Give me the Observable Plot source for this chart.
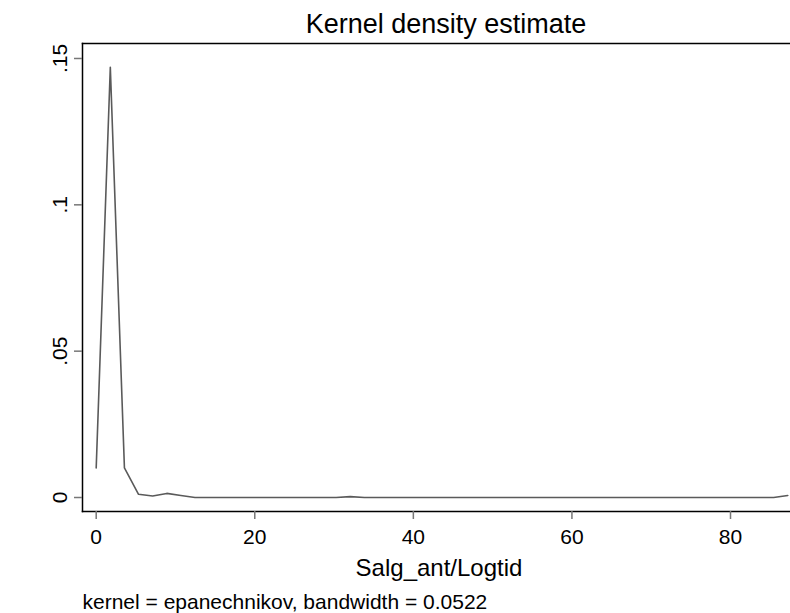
<!DOCTYPE html>
<html>
<head>
<meta charset="utf-8">
<script src="https://cdn.jsdelivr.net/npm/d3@7"></script>
<script src="https://cdn.jsdelivr.net/npm/@observablehq/plot@0.6"></script>
<style>
  html, body { margin: 0; padding: 0; background: #fff; }
  svg { display: block; }
</style>
</head>
<body>
<div id="chart"></div>
<script>
// Evaluation grid (Salg_ant/Logtid) and density estimates
const gridX = [0, 1.78, 3.56, 5.34, 7.12, 8.90, 10.68, 12.46, 14.24, 16.02,
  17.80, 19.58, 21.36, 23.14, 24.92, 26.70, 28.48, 30.26, 32.04, 33.82,
  35.60, 37.38, 39.16, 40.94, 42.72, 44.50, 46.28, 48.06, 49.84, 51.62,
  53.40, 55.18, 56.96, 58.74, 60.52, 62.30, 64.08, 65.86, 67.64, 69.42,
  71.20, 72.98, 74.76, 76.54, 78.32, 80.10, 81.88, 83.66, 85.44, 87.22];
const density = [0.0101, 0.147, 0.0101, 0.0011, 0.0005, 0.0014, 0.0007, 0, 0, 0,
  0, 0, 0, 0, 0, 0, 0, 0, 0.0003, 0,
  0, 0, 0, 0, 0, 0, 0, 0, 0, 0,
  0, 0, 0, 0, 0, 0, 0, 0, 0, 0,
  0, 0, 0, 0, 0, 0, 0, 0, 0, 0.0007];

const xTicks = [0, 20, 40, 60, 80];
const yTicks = [0, 0.05, 0.1, 0.15];
const yTickLabels = ["0", ".05", ".1", ".15"];
const titleText = "Kernel density estimate";
const xTitle = "Salg_ant/Logtid";
const noteText = "kernel = epanechnikov, bandwidth = 0.0522";

const data = gridX.map((x, i) => ({x, y: density[i]}));

const chart = Plot.plot({
  width: 790,
  height: 613,
  marginTop: 43,
  marginBottom: 102,
  marginLeft: 82,
  marginRight: 1,
  style: {fontFamily: "'Liberation Sans', Arial, sans-serif", background: "#fff", color: "#000"},
  x: {domain: [-1.728, 87.44], axis: null},
  y: {domain: [-0.00478, 0.15512], axis: null},
  marks: [
    Plot.frame({anchor: "top", stroke: "#000", strokeWidth: 1.5}),
    Plot.frame({anchor: "left", stroke: "#000", strokeWidth: 1.5}),
    Plot.frame({anchor: "bottom", stroke: "#000", strokeWidth: 1.5}),
    Plot.axisX({ticks: xTicks, tickSize: 8, tickPadding: 10, stroke: "#777", strokeWidth: 1.5,
      fill: "#000", fontSize: 21, label: null, tickFormat: d => String(d)}),
    Plot.axisY({ticks: yTicks, tickSize: 8, stroke: "#777", strokeWidth: 1.5,
      tickFormat: () => "", label: null}),
    Plot.text(yTicks, {y: d => d, text: (d, i) => yTickLabels[i], frameAnchor: "left",
      dx: -16, rotate: -90, textAnchor: "middle", lineAnchor: "bottom", fontSize: 21, fill: "#000"}),
    Plot.line(data, {x: "x", y: "y", stroke: "#5a5a5a", strokeWidth: 1.6}),
    Plot.text([titleText], {frameAnchor: "top", dx: 10, dy: -11, lineAnchor: "bottom",
      fontSize: 27, fill: "#000"}),
    Plot.text([xTitle], {frameAnchor: "bottom", dx: 3, dy: 64, lineAnchor: "bottom",
      fontSize: 24, fill: "#000"}),
    Plot.text([noteText], {frameAnchor: "bottom-left", dy: 97, textAnchor: "start", lineAnchor: "bottom",
      fontSize: 21, fill: "#000"})
  ]
});
document.getElementById("chart").appendChild(chart);
</script>
</body>
</html>
